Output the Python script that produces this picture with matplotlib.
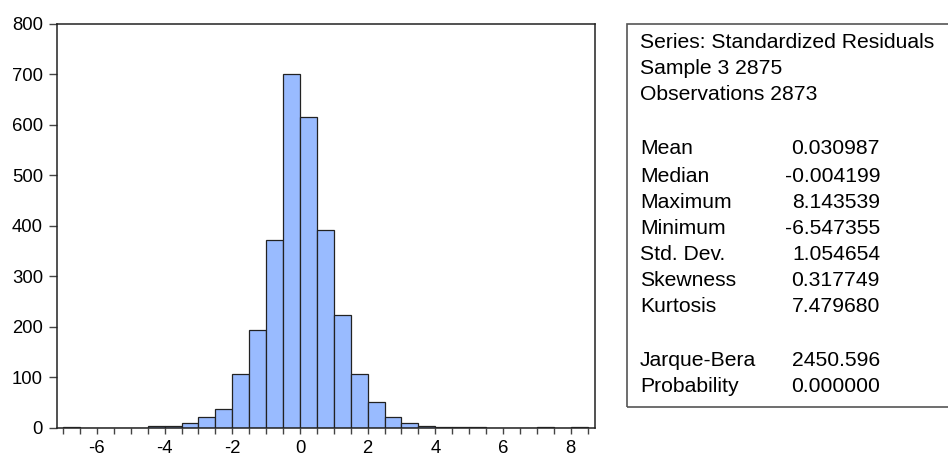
import numpy as np
import matplotlib
matplotlib.use('Agg')
import matplotlib.pyplot as plt
from matplotlib.patches import Rectangle

plt.rcParams['font.family'] = ['Liberation Sans', 'DejaVu Sans']
plt.rcParams['axes.unicode_minus'] = False

# --- histogram of standardized residuals (bin width 0.5, from -7 to 8.5)
bin_edges = np.arange(-7.0, 8.51, 0.5)
counts = [1, 0, 0, 0, 0, 3, 4, 10, 22, 38,
          107, 194, 371, 701, 615, 391, 224, 107, 50, 22,
          10, 4, 1, 2, 1, 0, 0, 0, 2, 0, 1]

# --- summary statistics panel
stat_header = ['Series: Standardized Residuals', 'Sample 3 2875', 'Observations 2873']
stat_names = ['Mean', 'Median', 'Maximum', 'Minimum', 'Std. Dev.', 'Skewness', 'Kurtosis']
stat_values = ['0.030987', '-0.004199', '8.143539', '-6.547355', '1.054654', '0.317749', '7.479680']
test_names = ['Jarque-Bera', 'Probability']
test_values = ['2450.596', '0.000000']

W, H = 948, 457
fig = plt.figure(figsize=(W / 100, H / 100), dpi=100)
ax = fig.add_axes((57 / W, 1 - 427.7 / H, (594.7 - 57) / W, (427.7 - 24) / H))

ax.bar(bin_edges[:-1], counts, width=0.5, align='edge',
       color='#99BBFF', edgecolor='#222222', linewidth=0.9)

ax.set_xlim(-7.18, 8.71)
ax.set_ylim(0, 800)
ax.set_xticks(np.arange(-6, 9, 2))
ax.set_xticks(np.arange(-7, 8.6, 0.5), minor=True)
ax.set_yticks(np.arange(0, 801, 100))
ax.tick_params(axis='x', which='both', direction='out', length=4, width=1,
               color='#444444', labelsize=13.3, pad=4.5)
ax.tick_params(axis='y', direction='out', length=6, width=1,
               color='#444444', labelsize=13.3, pad=4)
for s in ax.spines.values():
    s.set_linewidth(1.1)
    s.set_color('#222222')

# --- stats box (runs past the right edge of the image)
fig.patches.append(Rectangle((627 / W, 1 - 406.5 / H), 400 / W, (406.5 - 24) / H,
                             transform=fig.transFigure, fill=False,
                             edgecolor='#555555', linewidth=1.2))

fs = 15.2
label_x = 640 / W
value_x = 880 / W
# pixel rows of each line, from the top
header_y = [43, 69, 95]
stat_y = [149, 176, 202, 228, 254, 280, 306]
test_y = [361, 387]

for t, y in zip(stat_header, header_y):
    fig.text(label_x, 1 - y / H, t, fontsize=fs, va='center', ha='left')
for names, values, ys in [(stat_names, stat_values, stat_y),
                          (test_names, test_values, test_y)]:
    for n, v, y in zip(names, values, ys):
        fig.text(label_x, 1 - y / H, n, fontsize=fs, va='center', ha='left')
        fig.text(value_x, 1 - y / H, v, fontsize=fs, va='center', ha='right')

fig.savefig('out.png', dpi=100)
